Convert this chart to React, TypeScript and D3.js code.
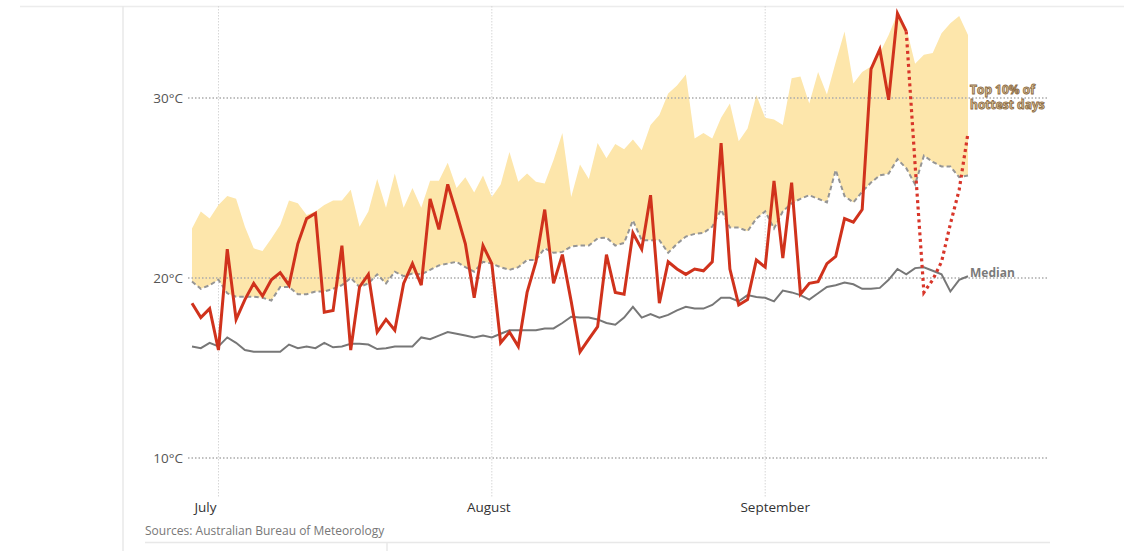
import React from "react";
import * as d3 from "d3";

const START = new Date(2023, 5, 28);
const END = new Date(2023, 8, 24);

const actual = [
  18.6, 17.8, 18.3, 16.0, 21.6, 17.7, 18.8, 19.7, 19.0, 19.9,
  20.3, 19.6, 21.9, 23.3, 23.6, 18.1, 18.2, 21.8, 16.0, 19.5,
  20.2, 17.0, 17.7, 17.1, 19.7, 20.8, 19.6, 24.4, 22.7, 25.2,
  23.6, 21.9, 18.9, 21.8, 20.8, 16.4, 17.0, 16.2, 19.2, 20.9,
  23.8, 19.7, 21.3, 18.7, 15.9, 16.6, 17.3, 21.3, 19.2, 19.1,
  22.5, 21.6, 24.6, 18.6, 20.9, 20.5, 20.2, 20.5, 20.4, 20.9,
  27.5, 20.5, 18.5, 18.8, 21.0, 20.6, 25.4, 21.1, 25.3, 19.1,
  19.7, 19.8, 20.8, 21.2, 23.3, 23.1, 23.8, 31.6, 32.7, 29.9,
  34.7, 33.7,
];

const forecastStart = 81;
const forecast = [33.7, 26.3, 19.2, 19.9, 20.9, 23.0, 24.9, 28.05];

const median = [
  16.2, 16.1, 16.4, 16.2, 16.7, 16.4, 16.0, 15.9, 15.9, 15.9,
  15.9, 16.3, 16.1, 16.2, 16.1, 16.4, 16.15, 16.2, 16.35, 16.35,
  16.3, 16.05, 16.1, 16.2, 16.2, 16.2, 16.7, 16.6, 16.8, 17.0,
  16.9, 16.8, 16.7, 16.8, 16.7, 16.9, 17.1, 17.1, 17.1, 17.1,
  17.2, 17.2, 17.5, 17.85, 17.8, 17.8, 17.7, 17.5, 17.4, 17.8,
  18.4, 17.8, 18.0, 17.8, 17.95, 18.2, 18.4, 18.3, 18.3, 18.5,
  18.9, 18.9, 18.7, 19.05, 18.95, 18.9, 18.7, 19.3, 19.2, 19.05,
  18.8, 19.15, 19.5, 19.6, 19.75, 19.65, 19.4, 19.4, 19.45, 19.9,
  20.5, 20.2, 20.55, 20.6, 20.4, 20.2, 19.25, 19.9, 20.1,
];

const p90 = [
  19.8, 19.4, 19.6, 19.9, 19.15, 18.96, 18.96, 18.96, 18.9, 18.75,
  19.5, 19.5, 19.1, 19.1, 19.25, 19.25, 19.4, 19.6, 20.0, 19.5,
  19.7, 20.2, 19.7, 20.35, 20.1, 20.25, 20.2, 20.45, 20.7, 20.8,
  20.9, 20.6, 20.35, 20.9, 20.8, 20.6, 20.45, 20.6, 21.0, 21.0,
  21.65, 21.4, 21.45, 21.75, 21.8, 21.8, 22.2, 22.25, 21.8, 21.95,
  23.2, 22.1, 22.1, 22.1, 21.4, 21.9, 22.3, 22.45, 22.5, 22.85,
  23.8, 22.8, 22.8, 22.6, 23.3, 23.7, 22.75, 23.7, 24.15, 24.4,
  24.6, 24.4, 24.2, 26.0, 24.55, 24.2, 24.8, 25.3, 25.7, 25.8,
  26.6, 26.1, 25.2, 26.8, 26.45, 26.2, 26.2, 25.6, 25.7,
];

const bandTop = [
  22.75, 23.7, 23.3, 24.05, 24.55, 24.4, 22.85, 21.65, 21.5, 22.2,
  22.95, 24.3, 24.15, 23.5, 23.7, 24.05, 24.3, 24.3, 24.9, 22.85,
  23.7, 25.5, 23.9, 25.8, 23.9, 25.0, 23.9, 25.4, 25.4, 26.4,
  25.0, 25.6, 24.75, 25.7, 24.5, 25.2, 27.0, 25.35, 25.8, 25.35,
  25.25, 26.55, 28.05, 24.5, 26.3, 25.5, 27.5, 26.65, 27.45, 27.15,
  27.7, 27.1, 28.5, 29.05, 30.25, 30.7, 31.3, 27.75, 28.05, 27.75,
  28.9, 29.7, 27.6, 28.3, 30.15, 28.9, 28.8, 28.5, 31.1, 31.2,
  29.7, 31.45, 30.2, 32.0, 33.7, 30.8, 31.45, 31.75, 32.5, 33.5,
  34.7, 33.9, 31.9, 32.4, 32.5, 33.6, 34.15, 34.55, 33.5,
];

const yTicks = [10, 20, 30];
const yTickLabels = ["10°C", "20°C", "30°C"];
const monthTicks = [new Date(2023, 6, 1), new Date(2023, 7, 1), new Date(2023, 8, 1)];
const monthLabels = ["July", "August", "September"];
const monthLabelOffsets = [-13, -3, 10];

const FONT = "'Open Sans', 'Noto Sans', sans-serif";

function dayDate(i: number) {
  return d3.timeDay.offset(START, i);
}

export default function App() {
  const W = 1124;
  const H = 551;
  const x = d3.scaleTime().domain([START, END]).range([192, 968]);
  const y = d3.scaleLinear().domain([10, 30]).range([458, 98]);

  const area = d3
    .area<number>()
    .x((_, i) => x(dayDate(i)))
    .y0((_, i) => y(p90[i]))
    .y1((d) => y(d));

  const line = d3
    .line<number>()
    .x((_, i) => x(dayDate(i)))
    .y((d) => y(d));

  const fLine = d3
    .line<number>()
    .x((_, i) => x(dayDate(i + forecastStart)))
    .y((d) => y(d));

  return (
    <svg
      width={W}
      height={H}
      style={{ position: "absolute", left: 0, top: 0, background: "#fff" }}
    >
      {/* frame lines */}
      <line x1={20} x2={W} y1={6.5} y2={6.5} stroke="#ececec" strokeWidth={1.5} />
      <line x1={123} x2={123} y1={6} y2={H} stroke="#e8e8e8" strokeWidth={1.5} />
      <line x1={145} x2={1050} y1={542.5} y2={542.5} stroke="#e8e8e8" strokeWidth={1.5} />
      <line x1={387} x2={387} y1={543} y2={H} stroke="#e8e8e8" strokeWidth={1.5} />

      {/* vertical gridlines */}
      {monthTicks.map((d, i) => (
        <line
          key={"vg" + i}
          x1={x(d)}
          x2={x(d)}
          y1={6}
          y2={498}
          stroke="#d6d6d6"
          strokeWidth={1}
          strokeDasharray="1.5,1.5"
        />
      ))}

      {/* band */}
      <path d={area(bandTop) || ""} fill="#fde6ab" />

      {/* horizontal gridlines */}
      {yTicks.map((t, i) => (
        <line
          key={"hg" + i}
          x1={188}
          x2={1048}
          y1={y(t)}
          y2={y(t)}
          stroke="#aaaaaa"
          strokeWidth={1.3}
          strokeDasharray="1.5,2"
        />
      ))}

      {/* 90th percentile dashed line */}
      <path
        d={line(p90) || ""}
        fill="none"
        stroke="#959595"
        strokeWidth={2}
        strokeDasharray="4.5,3"
      />

      {/* median */}
      <path d={line(median) || ""} fill="none" stroke="#777777" strokeWidth={2} />

      {/* actual */}
      <path
        d={line(actual) || ""}
        fill="none"
        stroke="#d0321c"
        strokeWidth={3}
        strokeLinejoin="miter"
      />
      {/* forecast */}
      <path
        d={fLine(forecast) || ""}
        fill="none"
        stroke="#d8362a"
        strokeWidth={3.2}
        strokeDasharray="3,3.5"
      />

      {/* y labels */}
      {yTicks.map((t, i) => (
        <text
          key={"yl" + i}
          x={183}
          y={y(t)}
          dy="0.35em"
          textAnchor="end"
          fontFamily={FONT}
          fontSize={13.5}
          fill="#555"
        >
          {yTickLabels[i]}
        </text>
      ))}

      {/* month labels */}
      {monthTicks.map((d, i) => (
        <text
          key={"ml" + i}
          x={x(d) + monthLabelOffsets[i]}
          y={512}
          textAnchor="middle"
          fontFamily={FONT}
          fontSize={13.5}
          fill="#333"
        >
          {monthLabels[i]}
        </text>
      ))}

      {/* annotations */}
      <text
        x={970}
        y={y(20) - 1}
        fontFamily={FONT}
        fontSize={12}
        fontWeight={700}
        fill="#7a7a7a"
      >
        Median
      </text>
      <text
        x={970}
        y={94}
        fontFamily={FONT}
        fontSize={12}
        fontWeight={700}
        fill="#e6d0a2"
        stroke="#8d6d48"
        strokeWidth={0.9}
      >
        Top 10% of
      </text>
      <text
        x={970}
        y={109}
        fontFamily={FONT}
        fontSize={12}
        fontWeight={700}
        fill="#e6d0a2"
        stroke="#8d6d48"
        strokeWidth={0.9}
      >
        hottest days
      </text>

      {/* source */}
      <text x={145} y={535} fontFamily={FONT} fontSize={12} fill="#777">
        Sources: Australian Bureau of Meteorology
      </text>
    </svg>
  );
}
